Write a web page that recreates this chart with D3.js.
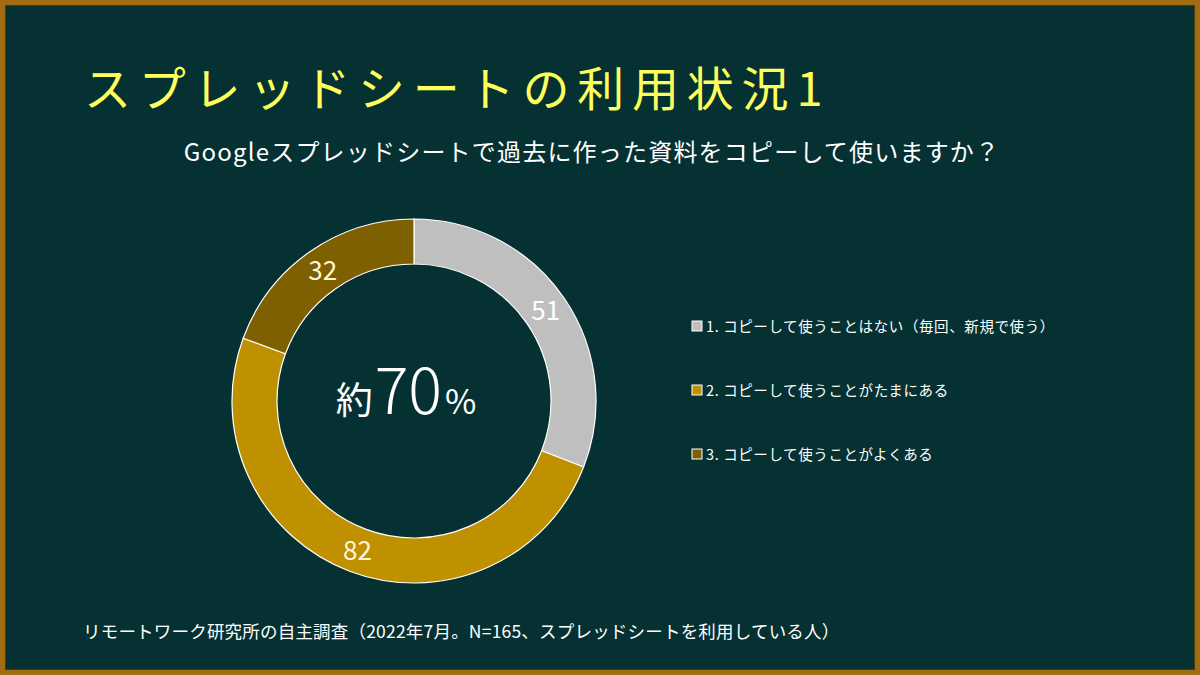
<!DOCTYPE html>
<html><head><meta charset="utf-8">
<script src="https://cdn.jsdelivr.net/npm/d3@7"></script>
<style>
html,body{margin:0;padding:0;background:#05302f;}
svg{display:block;}
text{font-family:"Noto Sans CJK JP","Noto Sans",sans-serif;}
</style></head>
<body>
<script>
const title = "スプレッドシートの利用状況1";
const subtitle = "Googleスプレッドシートで過去に作った資料をコピーして使いますか？";
const categories = ["1. コピーして使うことはない（毎回、新規で使う）", "2. コピーして使うことがたまにある", "3. コピーして使うことがよくある"];
const values = [51, 82, 32];
const colors = ["#bfbfbf", "#bf9000", "#7f6000"];
const centerText = ["約", "70", "%"];
const footnote = "リモートワーク研究所の自主調査（2022年7月。N=165、スプレッドシートを利用している人）";

const W = 1200, H = 675;
const svg = d3.select("body").append("svg").attr("width", W).attr("height", H);
svg.append("rect").attr("width", W).attr("height", H).attr("fill", "#a26d10");
svg.append("rect").attr("x", 5).attr("y", 5).attr("width", W - 10).attr("height", H - 10).attr("fill", "#4a3a10");
svg.append("rect").attr("x", 6).attr("y", 6).attr("width", W - 12).attr("height", H - 12).attr("fill", "#053133");

svg.append("text").attr("x", 84).attr("y", 106).attr("fill", "#ffff5c")
  .attr("font-size", 47).attr("letter-spacing", 7.8).text(title);

svg.append("text").attr("x", 592).attr("y", 161).attr("text-anchor", "middle").attr("fill", "#ffffff")
  .attr("font-size", 24).attr("letter-spacing", 1.2).text(subtitle);

const cx = 414, cy = 401, rOut = 182, rIn = 137;
const pie = d3.pie().sort(null).value(d => d);
const arc = d3.arc().innerRadius(rIn).outerRadius(rOut);
const g = svg.append("g").attr("transform", `translate(${cx},${cy})`);
const arcs = pie(values);
g.selectAll("path").data(arcs).join("path")
  .attr("d", arc).attr("fill", (d, i) => colors[i])
  .attr("stroke", "#ffffff").attr("stroke-width", 1.2);
g.selectAll("text.lbl").data(arcs).join("text").attr("class", "lbl")
  .attr("transform", d => `translate(${arc.centroid(d)})`)
  .attr("text-anchor", "middle").attr("dy", "0.36em")
  .attr("fill", (d, i) => i === 0 ? "#ffffff" : "#fff7d6")
  .attr("font-size", 26).text(d => d.data);

const ct = g.append("text").attr("text-anchor", "middle").attr("x", -8).attr("y", 13).attr("fill", "#ffffff");
ct.append("tspan").attr("font-size", 37).text(centerText[0]);
ct.append("tspan").attr("font-size", 63).attr("font-weight", 300).attr("dx", 2).text(centerText[1]);
ct.append("tspan").attr("font-size", 34).attr("dx", 3).text(centerText[2]);

const lg = svg.append("g");
const ly = d3.scalePoint().domain(d3.range(categories.length)).range([327, 455]);
const items = lg.selectAll("g").data(categories).join("g")
  .attr("transform", (d, i) => `translate(692,${ly(i)})`);
items.append("rect").attr("x", 0).attr("y", -6).attr("width", 10).attr("height", 10)
  .attr("fill", (d, i) => colors[i]).attr("stroke", "#ffffff").attr("stroke-width", 1);
items.append("text").attr("x", 14).attr("y", 5).attr("fill", "#ffffff")
  .attr("font-size", 14.5).attr("letter-spacing", 0.6).text(d => d);

svg.append("text").attr("x", 83).attr("y", 638).attr("fill", "#ffffff")
  .attr("font-size", 17.5).attr("letter-spacing", 0.2).text(footnote);
</script>
</body></html>
